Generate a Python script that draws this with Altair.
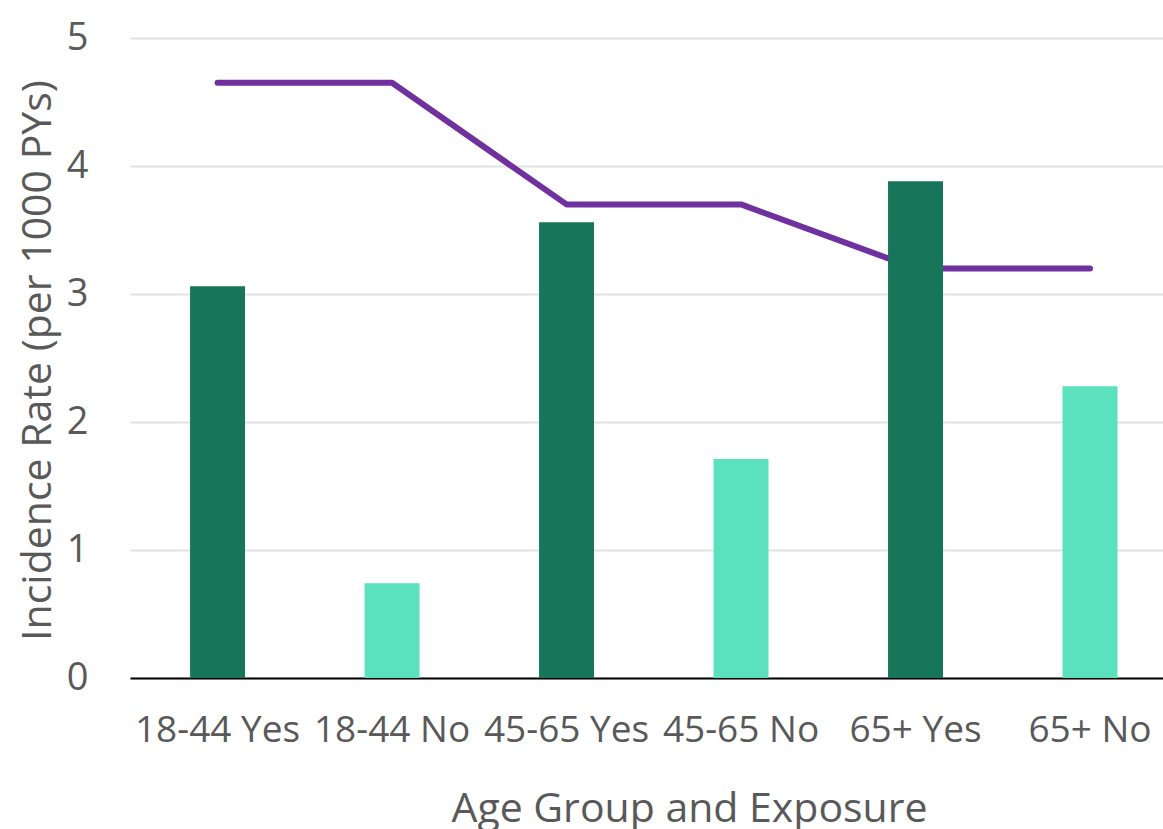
import altair as alt
import pandas as pd

categories = ["18-44 Yes", "18-44 No", "45-65 Yes", "45-65 No", "65+ Yes", "65+ No"]
exposure = ["Yes", "No", "Yes", "No", "Yes", "No"]
bar_values = [3.06, 0.74, 3.56, 1.71, 3.88, 2.28]
line_values = [4.65, 4.65, 3.70, 3.70, 3.20, 3.20]

df = pd.DataFrame({
    "category": categories,
    "exposure": exposure,
    "rate": bar_values,
    "line": line_values,
})

FONT = "Open Sans"
GRAY = "#595959"

x_enc = alt.X(
    "category:N",
    sort=categories,
    scale=alt.Scale(paddingInner=0.685, paddingOuter=0.3025, align=0.569, round=False),
    axis=alt.Axis(
        title="Age Group and Exposure",
        labelAngle=0,
        labelFontSize=37,
        labelColor=GRAY,
        labelFont=FONT,
        labelPadding=34,
        ticks=False,
        tickSize=0,
        domainColor="#000000",
        domainWidth=2,
        titleFontSize=41,
        titleFont=FONT,
        titleColor=GRAY,
        titleFontWeight="normal",
        titleBaseline="alphabetic",
        titleX=559,
        titleY=143,
        titleAlign="center",
        grid=False,
    ),
)

y_scale = alt.Scale(domain=[0, 5], nice=False, zero=True)

line = alt.Chart(df).mark_line(
    color="#7030A0", strokeWidth=6, strokeCap="round", strokeJoin="round"
).encode(
    x=x_enc,
    y=alt.Y(
        "line:Q",
        scale=y_scale,
        axis=alt.Axis(
            title="Incidence Rate (per 1000 PYs)",
            values=[0, 1, 2, 3, 4, 5],
            format="d",
            labelFontSize=38,
            labelColor=GRAY,
            labelFont=FONT,
            labelPadding=42,
            ticks=False,
            tickSize=0,
            domain=False,
            gridColor="#e2e2e2",
            gridWidth=2,
            titleFontSize=41,
            titleFont=FONT,
            titleColor=GRAY,
            titleFontWeight="normal",
            titleBaseline="alphabetic",
            titleAngle=-90,
            titleX=-80,
            titleY=322,
            titleAlign="center",
        ),
    ),
)

bars = alt.Chart(df).mark_bar().encode(
    x=alt.X("category:N", sort=categories),
    y=alt.Y("rate:Q", scale=y_scale),
    color=alt.Color(
        "exposure:N",
        scale=alt.Scale(domain=["Yes", "No"], range=["#17755A", "#5CE1BE"]),
        legend=None,
    ),
)

chart = alt.layer(line, bars).properties(
    width=1033,
    height=640,
    autosize=alt.AutoSizeParams(type="none"),
    padding={"left": 130, "top": 38, "right": 0, "bottom": 151},
    background="#ffffff",
).configure_view(stroke=None)

chart.save("out.html", embed_options={"renderer": "svg", "actions": False})
